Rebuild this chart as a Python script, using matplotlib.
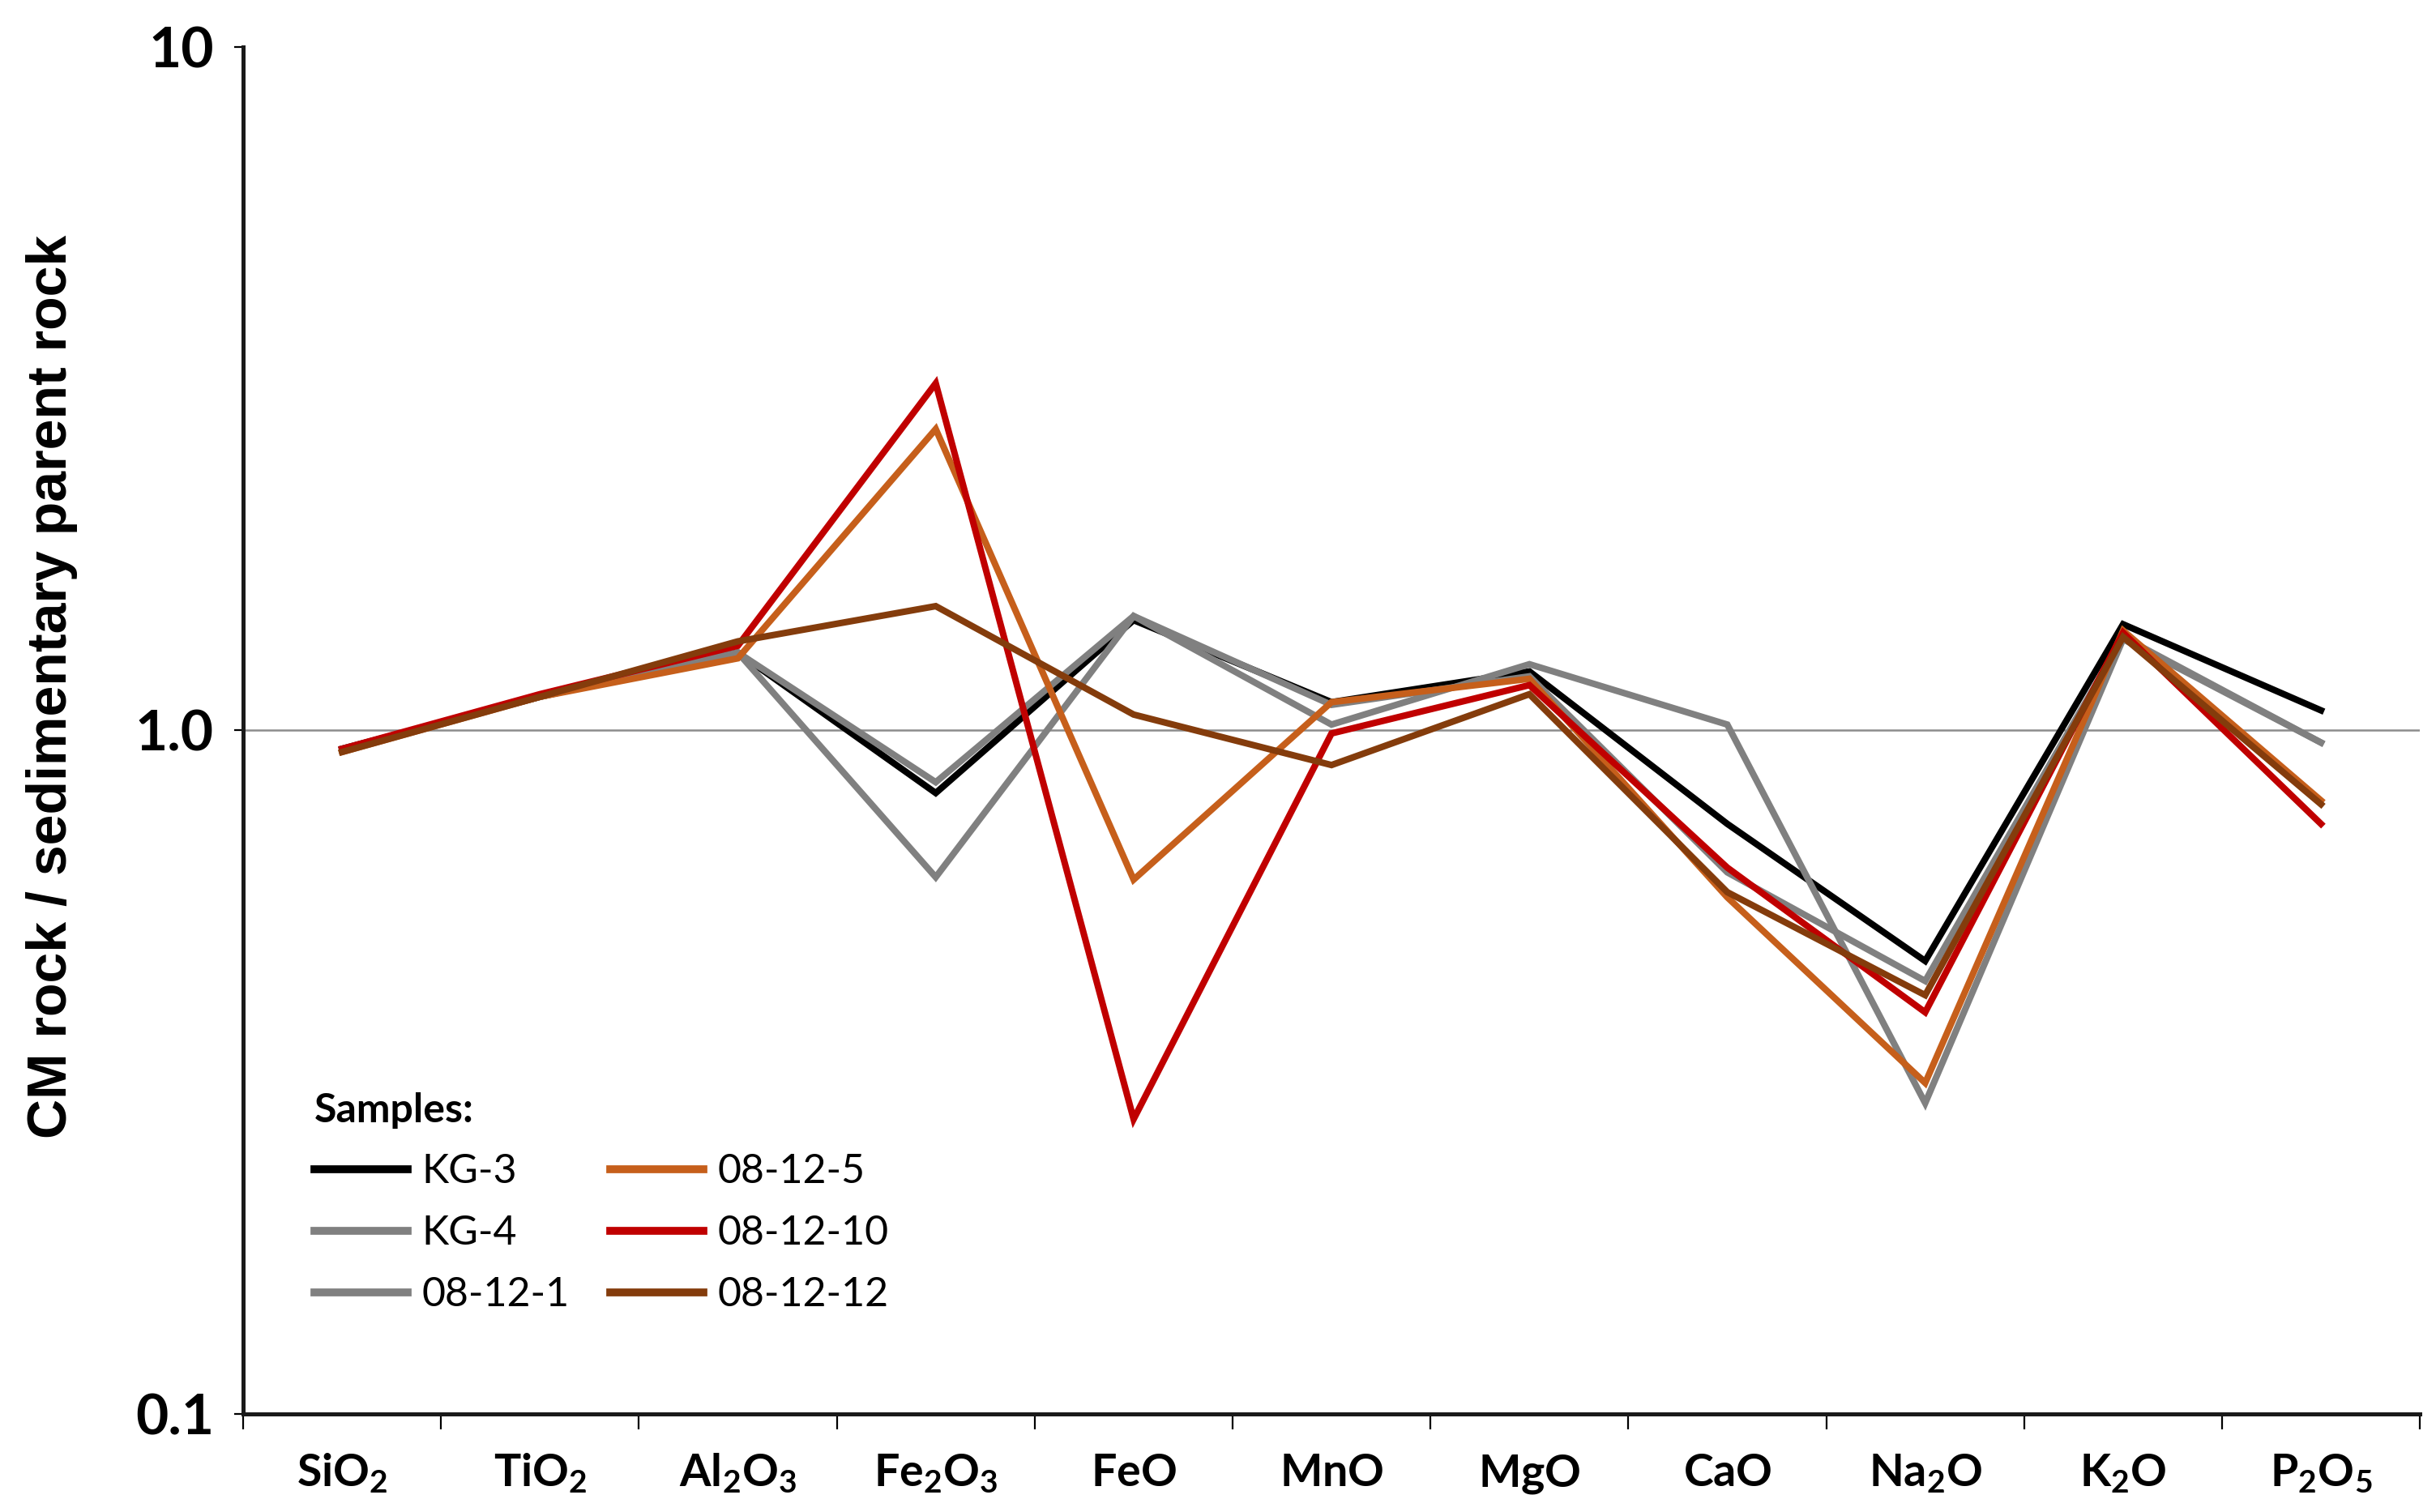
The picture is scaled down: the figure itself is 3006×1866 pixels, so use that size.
import matplotlib as mpl
import matplotlib.pyplot as plt
import numpy as np

# data
oxides = ['SiO_2', 'TiO_2', 'Al_2O_3', 'Fe_2O_3', 'FeO', 'MnO',
          'MgO', 'CaO', 'Na_2O', 'K_2O', 'P_2O_5']
samples = ['KG-3', 'KG-4', '08-12-1', '08-12-5', '08-12-10', '08-12-12']
kg3 = [0.94, 1.12, 1.30, 0.81, 1.45, 1.10, 1.22, 0.73, 0.46, 1.43, 1.07]
kg4 = [0.94, 1.12, 1.30, 0.84, 1.47, 1.09, 1.20, 0.62, 0.43, 1.37, 0.96]
s08_12_1 = [0.94, 1.12, 1.30, 0.61, 1.47, 1.02, 1.25, 1.02, 0.285, 1.36, 0.96]
s08_12_5 = [0.93, 1.12, 1.275, 2.76, 0.605, 1.10, 1.19, 0.57, 0.305, 1.40, 0.79]
s08_12_10 = [0.94, 1.13, 1.33, 3.22, 0.27, 0.99, 1.165, 0.63, 0.387, 1.39, 0.73]
s08_12_12 = [0.93, 1.12, 1.35, 1.52, 1.055, 0.89, 1.13, 0.58, 0.41, 1.37, 0.78]
colors = ['#000000', '#808080', '#808080', '#C65F1B', '#C00000', '#843C0C']

mpl.rcParams['mathtext.fontset'] = 'custom'
mpl.rcParams['mathtext.bf'] = 'Lato:bold'
mpl.rcParams['mathtext.rm'] = 'Lato'

fig = plt.figure(figsize=(15.03, 9.33), dpi=200)
ax = fig.add_axes([0.0998, 0.0648, 0.8936, 0.9042])

x = np.arange(len(oxides))
series = [kg3, kg4, s08_12_1, s08_12_5, s08_12_10, s08_12_12]
for name, vals, c in zip(samples, series, colors):
    ax.plot(x, vals, color=c, lw=2.9, label=name, solid_joinstyle='miter', zorder=3)

ax.axhline(1.0, color='#8c8c8c', lw=0.9, zorder=1)

ax.set_yscale('log')
ax.set_ylim(0.1, 10)
ax.set_xlim(-0.5, len(oxides) - 0.5)
ax.set_yticks([0.1, 1, 10])
ax.set_yticklabels(['0.1', '1.0', '10'])
ax.yaxis.set_minor_locator(mpl.ticker.NullLocator())
for lab in ax.get_yticklabels():
    lab.set_fontfamily('Lato')
    lab.set_fontweight('bold')
    lab.set_fontsize(25)

ax.set_xticks(np.arange(-0.5, len(oxides)))
ax.set_xticklabels([])
ax.set_xticks(x, minor=True)
ax.set_xticklabels([r'$\mathbf{%s}$' % o for o in oxides], minor=True, fontsize=20)
ax.tick_params(axis='x', which='major', direction='out', length=7, width=0.8)
ax.tick_params(axis='x', which='minor', length=0, pad=17)
ax.tick_params(axis='y', which='major', direction='out', length=4, width=0.8, pad=9)

for s in ['top', 'right']:
    ax.spines[s].set_visible(False)
for s in ['left', 'bottom']:
    ax.spines[s].set_linewidth(1.8)
    ax.spines[s].set_color('#1a1a1a')

ax.set_ylabel('CM rock / sedimentary parent rock', fontfamily='Liberation Sans',
              fontweight='bold', fontsize=24.5)
ax.yaxis.set_label_coords(-0.076, 0.532)

leg = ax.legend(loc='upper left', bbox_to_anchor=(0.016, 0.262), ncol=2, frameon=False,
                title='Samples:', alignment='left', handlelength=2.3, handletextpad=0.35,
                columnspacing=1.0, labelspacing=0.6,
                prop={'family': 'Lato', 'size': 18},
                title_fontproperties={'family': 'Lato', 'weight': 'bold', 'size': 18})
for h in leg.get_lines():
    h.set_linewidth(3.5)

fig.savefig('out.png', dpi=200)
